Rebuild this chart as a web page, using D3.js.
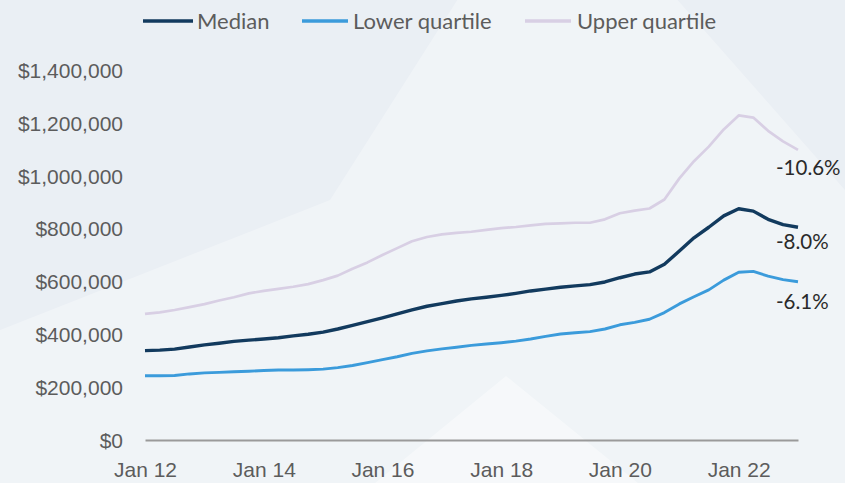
<!DOCTYPE html>
<html>
<head>
<meta charset="utf-8">
<script src="https://cdn.jsdelivr.net/npm/d3@7"></script>
<style>
  html, body { margin: 0; padding: 0; }
  body { width: 845px; height: 483px; overflow: hidden; background: #eaeff4; }
  svg { display: block; font-family: Lato, "Open Sans", sans-serif; }
</style>
</head>
<body>
<svg id="chart" width="845" height="483"></svg>
<script>
// Quarterly house price series, Jan 2012 – Jan 2023 (dollars, thousands)
const startDate = "2012-01-01";
const endDate = "2023-01-01";

const median = [
  338, 340, 344, 352, 360, 366, 373, 378, 382, 387, 394, 400,
  408, 420, 434, 448, 462, 477, 492, 506, 516, 526, 534, 540,
  547, 555, 564, 571, 578, 583, 588, 598, 614, 628, 636, 665,
  715, 765, 805, 848, 875, 866, 835, 815, 805
];
const lowerQuartile = [
  243, 243, 244, 250, 254, 256, 258, 260, 263, 265, 265, 266,
  268, 274, 282, 293, 304, 315, 328, 337, 345, 351, 358, 363,
  368, 374, 382, 392, 401, 406, 410, 420, 436, 445, 457, 482,
  515, 542, 568, 605, 635, 638, 620, 607, 599
];
const upperQuartile = [
  477, 483, 492, 503, 514, 528, 540, 555, 564, 572, 580, 590,
  605, 622, 648, 672, 700, 726, 752, 768, 778, 784, 788, 795,
  802, 806, 812, 818, 820, 822, 822, 835, 858, 868, 876, 910,
  990, 1055, 1110, 1175, 1228, 1220, 1170, 1130, 1098
];

const seriesNames = ["Median", "Lower quartile", "Upper quartile"];
const seriesColors = ["#123a5e", "#3b9bdb", "#d8cfe4"];
const seriesWidths = [3.4, 2.9, 2.7];
const endLabels = ["-8.0%", "-6.1%", "-10.6%"];
const yTicks = [0, 200000, 400000, 600000, 800000, 1000000, 1200000, 1400000];

const parse = d3.timeParse("%Y-%m-%d");
const dates = d3.timeMonth.every(3).range(parse(startDate), d3.timeDay.offset(parse(endDate), 1));

const svg = d3.select("#chart");

// Soft backdrop chevrons
const bg = svg.append("g");
bg.append("polygon")
  .attr("points", "0,330 330,200 470,-20 660,-20 845,190 845,483 0,483")
  .attr("fill", "#ffffff").attr("opacity", 0.3);
bg.append("polygon")
  .attr("points", "375,483 506,376 638,483")
  .attr("fill", "#ffffff").attr("opacity", 0.4);

const x = d3.scaleTime()
  .domain([parse(startDate), parse(endDate)])
  .range([145, 798]);

const y = d3.scaleLinear()
  .domain([0, 1400000])
  .range([440, 70]);

// Y axis labels
const yAxis = d3.axisLeft(y)
  .tickValues(yTicks)
  .tickSize(0)
  .tickPadding(0)
  .tickFormat(d3.format("$,.0f"));
const gy = svg.append("g").attr("transform", "translate(123,0)").call(yAxis);
gy.select(".domain").remove();
gy.selectAll("text")
  .attr("fill", "#5c5c5c")
  .style("font-size", "21px")
  .attr("dy", "0.35em");

// X axis
const xAxis = d3.axisBottom(x)
  .ticks(d3.timeYear.every(2))
  .tickSize(0)
  .tickPadding(0)
  .tickFormat(d3.timeFormat("Jan %y"));
const gx = svg.append("g").attr("transform", "translate(0,440)").call(xAxis);
gx.select(".domain").attr("stroke", "#9a9a9a").attr("stroke-width", 2);
gx.selectAll("text")
  .attr("fill", "#5c5c5c")
  .style("font-size", "21px")
  .attr("y", 37)
  .attr("dy", 0);

// Lines
const seriesData = [median, lowerQuartile, upperQuartile];
const line = d3.line()
  .x((d, i) => x(dates[i]))
  .y(d => y(d * 1000));

const order = [2, 1, 0];
order.forEach(k => {
  svg.append("path")
    .datum(seriesData[k])
    .attr("fill", "none")
    .attr("stroke", seriesColors[k])
    .attr("stroke-width", seriesWidths[k])
    .attr("stroke-linejoin", "round")
    .attr("d", line);
});

// End-of-series change labels
const labelOffsets = [15, 20, 18];
seriesData.forEach((vals, k) => {
  const last = vals[vals.length - 1];
  svg.append("text")
    .attr("x", 776)
    .attr("y", y(last * 1000) + labelOffsets[k])
    .attr("dy", "0.35em")
    .attr("fill", "#2a2a2a")
    .style("font-size", "20.5px")
    .text(endLabels[k]);
});

// Legend
const legendItems = [
  { x: 143, w: 50, text: 197 },
  { x: 302, w: 46, text: 353 },
  { x: 525, w: 46, text: 577 }
];
const legend = svg.append("g");
legendItems.forEach((it, k) => {
  legend.append("line")
    .attr("x1", it.x).attr("x2", it.x + it.w)
    .attr("y1", 21).attr("y2", 21)
    .attr("stroke", seriesColors[k])
    .attr("stroke-width", 3.5);
  legend.append("text")
    .attr("x", it.text)
    .attr("y", 21)
    .attr("dy", "0.35em")
    .attr("fill", "#5c5c5c")
    .style("font-size", "22px")
    .text(seriesNames[k]);
});
</script>
</body>
</html>
